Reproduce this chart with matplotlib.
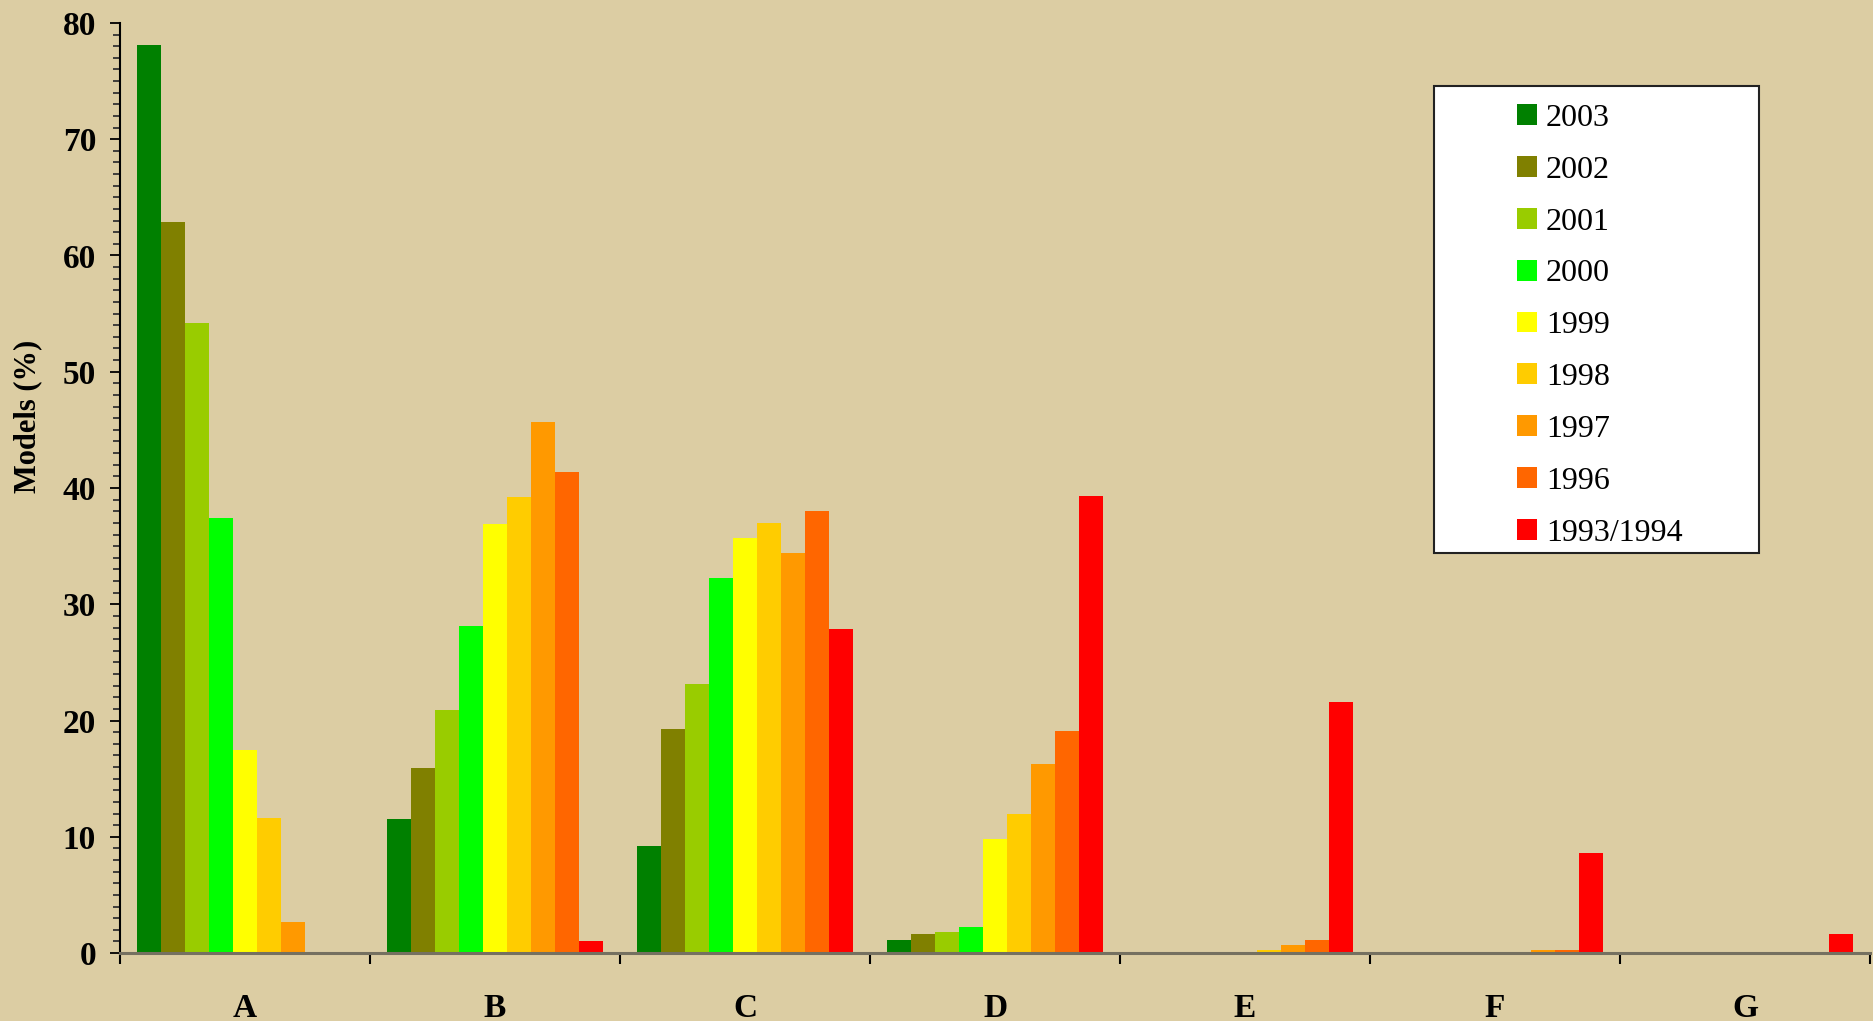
import matplotlib
matplotlib.use('agg')
import matplotlib.pyplot as plt
import matplotlib.patches as mpatches
import numpy as np

plt.rcParams['font.family'] = ['Liberation Serif', 'DejaVu Serif']

categories = ['A', 'B', 'C', 'D', 'E', 'F', 'G']
years = ['2003', '2002', '2001', '2000', '1999', '1998', '1997', '1996', '1993/1994']
colors = ['#008000', '#808000', '#99CC00', '#00FF00', '#FFFF00',
          '#FFCC00', '#FF9900', '#FF6600', '#FF0000']

# percent of models per category, one list per year (A..G)
v2003 = [78.1, 11.5, 9.2, 1.15, 0.0, 0.0, 0.0]
v2002 = [62.9, 15.9, 19.3, 1.65, 0.0, 0.0, 0.0]
v2001 = [54.2, 20.9, 23.1, 1.8, 0.0, 0.0, 0.0]
v2000 = [37.4, 28.1, 32.3, 2.2, 0.0, 0.0, 0.0]
v1999 = [17.5, 36.9, 35.7, 9.8, 0.05, 0.0, 0.0]
v1998 = [11.6, 39.2, 37.0, 12.0, 0.3, 0.0, 0.08]
v1997 = [2.7, 45.7, 34.4, 16.3, 0.66, 0.25, 0.08]
v1996 = [0.0, 41.4, 38.0, 19.1, 1.1, 0.25, 0.0]
v1993 = [0.0, 1.0, 27.9, 39.3, 21.6, 8.6, 1.6]
series = [v2003, v2002, v2001, v2000, v1999, v1998, v1997, v1996, v1993]

bg = '#DCCDA3'
fig = plt.figure(figsize=(18.74, 10.21), dpi=100, facecolor=bg)
ax = fig.add_axes([120 / 1874, 1 - 953 / 1021, 1750 / 1874, 930 / 1021])
ax.set_facecolor(bg)

width = 0.096
centers = np.arange(len(categories)) + 0.5
for j, vals in enumerate(series):
    ax.bar(centers + (j - 4) * width, vals, width, color=colors[j],
           label=years[j], linewidth=0, zorder=2)

ax.set_xlim(0, 7)
ax.set_ylim(0, 80)

ax.spines['top'].set_visible(False)
ax.spines['right'].set_visible(False)
ax.spines['left'].set_color('black')
ax.spines['left'].set_linewidth(1.5)
ax.spines['bottom'].set_color('#757060')
ax.spines['bottom'].set_linewidth(2.2)
ax.spines['bottom'].set_zorder(3)

ax.set_yticks(np.arange(0, 81, 10))
ax.set_yticks(np.arange(0, 81, 1), minor=True)
ax.tick_params(axis='y', which='major', length=7.2, width=1.3, pad=10,
               labelsize=24, direction='out')
ax.tick_params(axis='y', which='minor', length=4.8, width=1.3, color='#333333')
for lab in ax.get_yticklabels():
    lab.set_fontweight('bold')

ax.set_xticks(np.arange(0, 8))
ax.set_xticklabels([])
ax.set_xticks(centers, minor=True)
ax.set_xticklabels(categories, minor=True, fontsize=24, fontweight='bold')
ax.tick_params(axis='x', which='major', length=8, width=1.5)
ax.tick_params(axis='x', which='minor', length=0, pad=29)

ax.set_ylabel('Models (%)', fontsize=22, fontweight='bold')
ax.yaxis.set_label_coords(-0.0446, 0.577)

# legend box
box = mpatches.Rectangle((0.7509, 0.430), 0.1857, 0.5023, transform=ax.transAxes,
                         facecolor='white', edgecolor='#222222', linewidth=1.5,
                         zorder=3)
ax.add_patch(box)
leg = ax.legend(loc='upper left', bbox_to_anchor=(0.7983, 0.913), frameon=False,
                fontsize=23, handlelength=0.63, handleheight=0.63,
                handletextpad=0.28, labelspacing=0.715, borderpad=0,
                borderaxespad=0)
leg.set_zorder(4)

fig.savefig('out.png', dpi=100, facecolor=bg)
